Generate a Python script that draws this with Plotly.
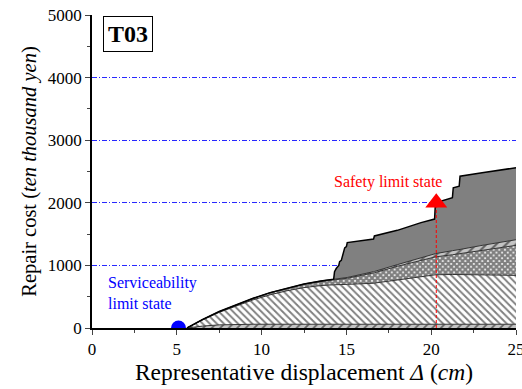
import plotly.graph_objects as go

# Representative displacement (cm) – common grid for all stacked layers
disp = [5.6, 6.5, 7.5, 8.5, 9.5, 10.5, 11.5, 12.5, 13.5, 14.25, 14.3, 14.4, 14.55, 14.6,
        14.7, 14.75, 14.85, 14.9, 15.0, 15.05, 16.6, 16.65, 18.0, 19.4, 20.2, 20.25,
        21.25, 21.3, 21.65, 21.7, 23.0, 24.0, 25.0]

# cumulative repair cost (ten thousand yen) at the top of each layer
layer1_top = [0, 30, 50, 60, 60, 60, 60, 60, 60, 60, 60, 60, 60, 60,
              60, 60, 60, 60, 60, 60, 60, 60, 60, 60, 60, 60,
              60, 60, 60, 60, 60, 60, 60]
layer2_top = [0, 125, 250, 350, 450, 530, 595, 645, 678, 690, 690, 691, 692, 692,
              693, 694, 695, 695, 696, 697, 715, 717, 770, 825, 848, 850,
              855, 855, 855, 855, 850, 845, 840]
layer3_top = [0, 130, 258, 365, 470, 560, 632, 695, 742, 770, 772, 775, 778, 780,
              783, 785, 788, 790, 793, 795, 880, 883, 985, 1085, 1133, 1136,
              1170, 1172, 1185, 1187, 1240, 1280, 1320]
layer4_top = [0, 135, 263, 370, 475, 565, 639, 703, 752, 780, 782, 785, 790, 792,
              795, 797, 800, 802, 805, 807, 900, 903, 1012, 1125, 1185, 1188,
              1235, 1237, 1252, 1255, 1320, 1365, 1410]
layer5_top = [0, 135, 263, 370, 475, 565, 639, 703, 752, 780, 900, 950, 1000, 1060,
              1080, 1130, 1200, 1280, 1300, 1365, 1420, 1470, 1560, 1683, 1740, 2000,
              2080, 2240, 2265, 2425, 2480, 2520, 2560]

# limit states
service_x, service_cost = [5.1], [0]
safety_x, safety_cost = [20.3], [2000]

x_ticks = [0, 5, 10, 15, 20, 25]
y_ticks = [0, 1000, 2000, 3000, 4000, 5000]

SERIF = "Liberation Serif"
fig = go.Figure()

fig.add_trace(go.Scatter(x=disp, y=layer1_top, mode="lines", fill="tozeroy",
                         line=dict(color="#333333", width=1),
                         fillpattern=dict(shape="/", bgcolor="#c4c4c4", fgcolor="black",
                                          size=6, solidity=0.3),
                         showlegend=False, hoverinfo="skip"))
fig.add_trace(go.Scatter(x=disp, y=layer2_top, mode="lines", fill="tonexty",
                         line=dict(color="#333333", width=1),
                         fillpattern=dict(shape="\\", bgcolor="white", fgcolor="black",
                                          size=5, solidity=0.38),
                         showlegend=False, hoverinfo="skip"))
fig.add_trace(go.Scatter(x=disp, y=layer3_top, mode="lines", fill="tonexty",
                         line=dict(color="#333333", width=1),
                         fillpattern=dict(shape="x", bgcolor="white", fgcolor="black",
                                          size=4, solidity=0.8),
                         showlegend=False, hoverinfo="skip"))
fig.add_trace(go.Scatter(x=disp, y=layer4_top, mode="lines", fill="tonexty",
                         line=dict(color="#333333", width=1),
                         fillpattern=dict(shape="/", bgcolor="#c4c4c4", fgcolor="black",
                                          size=7, solidity=0.3),
                         showlegend=False, hoverinfo="skip"))
fig.add_trace(go.Scatter(x=disp, y=layer5_top, mode="lines", fill="tonexty",
                         fillcolor="#808080",
                         line=dict(color="black", width=1.5),
                         showlegend=False, hoverinfo="skip"))

# safety limit: dashed drop line + triangle
fig.add_trace(go.Scatter(x=[safety_x[0], safety_x[0]], y=[0, safety_cost[0]], mode="lines",
                         line=dict(color="red", width=1, dash="3px,2px"),
                         showlegend=False, hoverinfo="skip"))
fig.add_trace(go.Scatter(x=safety_x, y=safety_cost, mode="markers",
                         marker=dict(symbol="triangle-up", size=19, color="red"),
                         showlegend=False))
fig.add_trace(go.Scatter(x=service_x, y=service_cost, mode="markers",
                         marker=dict(symbol="circle", size=15, color="blue"),
                         showlegend=False))

fig.add_annotation(x=17.45, y=2330, text="Safety limit state", showarrow=False,
                   font=dict(family=SERIF, size=16, color="red"))
fig.add_annotation(x=0.85, y=560, text="Serviceability<br>limit state", showarrow=False,
                   xanchor="left", align="left",
                   font=dict(family=SERIF, size=16, color="blue"))
fig.add_annotation(xref="paper", yref="paper", x=0.085, y=0.939, text="<b>T03</b>",
                   xanchor="center", yanchor="middle",
                   showarrow=False, bordercolor="black", borderwidth=1, borderpad=4,
                   bgcolor="white", font=dict(family=SERIF, size=24, color="black"))

fig.update_layout(
    width=522, height=389,
    margin=dict(l=92, r=6, t=15, b=61, autoexpand=False),
    plot_bgcolor="white", paper_bgcolor="white",
    font=dict(family=SERIF, color="black"),
    xaxis=dict(range=[0, 25], tickvals=x_ticks, ticks="outside", ticklen=5, tickwidth=1,
               minor=dict(dtick=2.5, ticks="outside", ticklen=3, tickwidth=1),
               showline=True, linecolor="black", linewidth=1.5, showgrid=False,
               zeroline=False, tickfont=dict(size=17), ticklabeloverflow="allow",
               automargin=False,
               title=dict(text="Representative displacement <i>Δ</i> (<i>cm</i>)",
                          font=dict(size=23.5), standoff=3)),
    yaxis=dict(range=[0, 5000], tickvals=y_ticks, ticks="outside", ticklen=5, tickwidth=1,
               minor=dict(dtick=500, ticks="outside", ticklen=3, tickwidth=1, showgrid=False),
               showline=True, linecolor="black", linewidth=1.5,
               showgrid=True, gridcolor="rgb(40,40,255)", griddash="5px,2px,1px,2px",
               gridwidth=1, zeroline=False, tickfont=dict(size=17), automargin=False,
               title=dict(text="Repair cost (<i>ten thousand yen</i>)",
                          font=dict(size=20.5), standoff=6)),
)

fig.write_html("out.html")
